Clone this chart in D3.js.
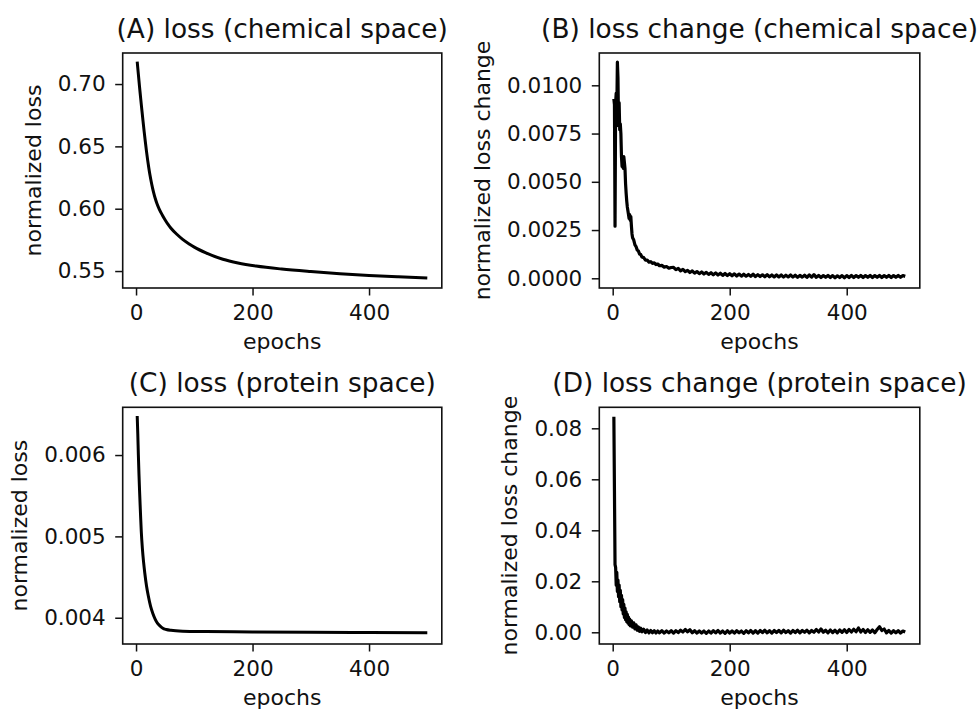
<!DOCTYPE html>
<html>
<head>
<meta charset="utf-8">
<script src="https://cdn.jsdelivr.net/npm/d3@7"></script>
<style>
  html, body { margin: 0; padding: 0; background: #fff; }
  svg { display: block; }
  text { font-family: "DejaVu Sans", sans-serif; fill: #111; }
</style>
</head>
<body>
<svg id="chart" width="978" height="710"></svg>
<script>
// ---------------- DATA ----------------
const xTicks = [0, 200, 400];

// (A) loss (chemical space)
const epochsA = [2,3,4,5,6,7,8,9,10,12,14,16,18,20,22,24,26,28,30,33,36,40,45,50,55,60,70,80,92,100,120,149,175,206,250,300,350,400,450,500];
const lossA   = [0.718,0.7128,0.7077,0.7027,0.6978,0.6930,0.6883,0.6837,0.6792,0.6703,0.6617,0.6535,0.6458,0.6388,0.6325,0.6268,0.6218,0.6173,0.6133,0.6082,0.6040,0.5995,0.5950,0.5910,0.5874,0.5843,0.5795,0.5754,0.5715,0.5692,0.5646,0.5595,0.5565,0.5540,0.5516,0.5496,0.5479,0.5465,0.5454,0.5445];
const ticksA  = [0.55, 0.60, 0.65, 0.70];

// (B) loss change (chemical space)
const epochsB = [2,3,4,5,6,7,8,9,10,11,12,13,14,15,16,17,18,19,20,21,22,23,24,25,26,27,28,29,30,31,32,33,34,36,38,40,42,44,46,48,50,53,56,59,62,65,68,71,74,77,80,84,88,92,96,100,
  104,108,112,116,120,124,128,132,136,140,144,148,152,156,160,164,168,172,176,180,184,188,192,196,200,
  204,208,212,216,220,224,228,232,236,240,244,248,252,256,260,264,268,272,276,280,284,288,292,296,300,
  304,308,312,316,320,324,328,332,336,340,344,348,352,356,360,364,368,372,376,380,384,388,392,396,400,
  404,408,412,416,420,424,428,432,436,440,444,448,452,456,460,464,468,472,476,480,484,488,492,496,500];
const changeB = [0.0093,0.0090,0.0027,0.0091,0.0096,0.0086,0.0112,0.0104,0.0079,0.0091,0.0077,0.0080,0.0075,0.0063,0.0058,0.0063,0.0057,0.0063,0.0060,0.0057,0.0049,0.0044,0.0040,0.0037,0.0035,0.0033,0.0031,0.0033,0.0030,0.0032,0.0027,0.0023,0.0021,0.00198,0.00173,0.00164,0.00146,0.00141,0.00125,0.00123,0.00110,0.00107,0.00094,0.00094,0.00084,0.00086,0.00077,0.00080,0.00071,0.00074,0.00065,0.00067,0.00058,0.00061,0.00052,0.00056,
  0.00057,0.00045,0.00051,0.00039,0.00046,0.00034,0.00041,0.00030,0.00038,0.00027,0.00035,0.00024,0.00033,0.00022,0.00031,0.00020,0.00029,0.00018,0.00028,0.00017,0.00026,0.00015,0.00025,0.00014,0.00024,
  0.00013,0.00023,0.00012,0.00022,0.00011,0.00021,0.00011,0.00020,0.00010,0.00021,0.00009,0.00019,0.00009,0.00018,0.00008,0.00019,0.00008,0.00017,0.00007,0.00018,0.00007,0.00017,0.00006,0.00016,0.00007,
  0.00017,0.00006,0.00016,0.00005,0.00015,0.00006,0.00016,0.00005,0.00017,0.00006,0.00019,0.00005,0.00015,0.00004,0.00014,0.00005,0.00015,0.00004,0.00014,0.00003,0.00013,0.00004,0.00014,0.00003,0.00014,
  0.00004,0.00015,0.00004,0.00014,0.00005,0.00015,0.00004,0.00014,0.00005,0.00015,0.00004,0.00014,0.00005,0.00015,0.00004,0.00014,0.00005,0.00015,0.00004,0.00014,0.00005,0.00015,0.00005,0.00014,0.00010];
const ticksB  = [0, 0.0025, 0.0050, 0.0075, 0.0100];

// (C) loss (protein space)
const epochsC = [2,3,4,5,6,7,8,9,11,13,15,18,21,25,29,33,37,41,46,52,60,80,120,200,300,400,500];
const lossC   = [0.00648,0.00626,0.00600,0.00577,0.00557,0.00539,0.00522,0.00506,0.00484,0.00468,0.00455,0.00439,0.00427,0.00414,0.00405,0.00398,0.00393,0.00390,0.00387,0.003855,0.003845,0.003835,0.00383,0.003825,0.00382,0.003818,0.003816];
const ticksC  = [0.004, 0.005, 0.006];

// (D) loss change (protein space)
const epochsD = [2,3,4,5,6,7,8,9,10,11,12,13,14,15,16,17,18,19,20,21,22,23,24,25,26,27,28,29,30,32,34,36,38,40,42,44,46,48,50,53,56,59,62,65,68,71,74,77,80,84,88,92,96,100,
  104,108,112,116,120,124,128,132,136,140,144,148,152,156,160,164,168,172,176,180,184,188,192,196,200,
  204,208,212,216,220,224,228,232,236,240,244,248,252,256,260,264,268,272,276,280,284,288,292,296,300,
  304,308,312,316,320,324,328,332,336,340,344,348,352,356,360,364,368,372,376,380,384,388,392,396,400,
  404,408,412,416,420,424,428,432,436,440,444,448,452,456,460,464,468,472,476,480,484,488,492,496,500];
const changeD = [0.0845,0.0555,0.0265,0.0255,0.0185,0.0235,0.0160,0.0205,0.0140,0.0185,0.0120,0.0165,0.0100,0.0145,0.0088,0.0128,0.0072,0.0110,0.0058,0.0095,0.0050,0.0080,0.0042,0.0070,0.0036,0.0060,0.0030,0.0052,0.0025,0.0045,0.0020,0.0037,0.0013,0.0029,0.0008,0.0021,0.0004,0.0016,0.0002,0.0012,-0.0001,0.0009,-0.0002,0.0007,-0.0002,0.0006,-0.0003,0.0005,-0.0002,0.0006,-0.0003,0.0005,-0.0002,0.0006,
  -0.0003,0.0006,-0.0001,0.0008,0.0001,0.0011,0.0002,0.0010,-0.0002,0.0006,-0.0003,0.0005,-0.0003,0.0005,-0.0004,0.0005,-0.0003,0.0006,-0.0002,0.0007,-0.0003,0.0005,-0.0004,0.0006,-0.0003,
  0.0005,-0.0003,0.0006,-0.0002,0.0005,-0.0004,0.0006,-0.0002,0.0007,-0.0003,0.0006,-0.0003,0.0007,-0.0001,0.0008,-0.0002,0.0006,-0.0003,0.0007,-0.0001,0.0007,-0.0002,0.0008,-0.0001,0.0006,
  -0.0003,0.0007,-0.0001,0.0008,-0.0002,0.0007,0.0000,0.0008,-0.0002,0.0007,0.0000,0.0011,0.0001,0.0013,0.0000,0.0008,-0.0002,0.0009,-0.0001,0.0008,-0.0002,0.0009,0.0000,0.0010,-0.0001,
  0.0011,0.0001,0.0012,0.0002,0.0017,0.0001,0.0011,-0.0001,0.0010,0.0000,0.0009,-0.0002,0.0011,0.0022,0.0007,0.0013,-0.0002,0.0007,-0.0003,0.0006,-0.0002,0.0006,-0.0003,0.0005,0.0001];
const ticksD  = [0, 0.02, 0.04, 0.06, 0.08];

const titles = ["(A) loss (chemical space)", "(B) loss change (chemical space)", "(C) loss (protein space)", "(D) loss change (protein space)"];
const yLabels = ["normalized loss", "normalized loss change", "normalized loss", "normalized loss change"];
const xLabel = "epochs";

// ---------------- LAYOUT ----------------
const panels = [
  { title: titles[0], ylab: yLabels[0], ex: epochsA, vals: lossA,   ticks: ticksA, fmt: d3.format(".2f"), yDom: [0.5364, 0.7249],    box: [122.7, 441.8, 53, 288],    smooth: true },
  { title: titles[1], ylab: yLabels[1], ex: epochsB, vals: changeB, ticks: ticksB, fmt: d3.format(".4f"), yDom: [-0.000503, 0.011674], box: [599.3, 919.8, 53, 288],  smooth: false },
  { title: titles[2], ylab: yLabels[2], ex: epochsC, vals: lossC,   ticks: ticksC, fmt: d3.format(".3f"), yDom: [0.003677, 0.006587], box: [122.7, 441.8, 407.3, 644], smooth: true },
  { title: titles[3], ylab: yLabels[3], ex: epochsD, vals: changeD, ticks: ticksD, fmt: d3.format(".2f"), yDom: [-0.00459, 0.08824],  box: [599.3, 919.8, 407.3, 644], smooth: false }
];
const xDom = [-22.9, 524.9];

const svg = d3.select("#chart");
const TICK_FS = 21.5, LABEL_FS = 22, TITLE_FS = 26.4;

panels.forEach(p => {
  const [x0, x1, y0, y1] = p.box;
  const x = d3.scaleLinear().domain(xDom).range([x0, x1]);
  const y = d3.scaleLinear().domain(p.yDom).range([y1, y0]);
  const g = svg.append("g");

  // line
  const line = d3.line()
    .x((d, i) => x(p.ex[i]))
    .y(d => y(d))
    .curve(p.smooth ? d3.curveMonotoneX : d3.curveLinear);
  g.append("path")
    .attr("d", line(p.vals))
    .attr("fill", "none")
    .attr("stroke", "#000")
    .attr("stroke-width", p.smooth ? 3 : 3.2)
    .attr("stroke-linejoin", "round");

  // x axis
  const xa = g.append("g").attr("transform", `translate(0,${y1})`)
    .call(d3.axisBottom(x).tickValues(xTicks).tickSize(7.5).tickPadding(9.5).tickSizeOuter(0));
  xa.select(".domain").remove();
  xa.selectAll("line").attr("stroke", "#111").attr("stroke-width", 1.5);
  xa.selectAll("text").style("font-family", "DejaVu Sans").style("font-size", TICK_FS + "px").attr("fill", "#111");

  // y axis
  const ya = g.append("g").attr("transform", `translate(${x0},0)`)
    .call(d3.axisLeft(y).tickValues(p.ticks).tickFormat(p.fmt).tickSize(7.5).tickPadding(9.5).tickSizeOuter(0));
  ya.select(".domain").remove();
  ya.selectAll("line").attr("stroke", "#111").attr("stroke-width", 1.5);
  ya.selectAll("text").style("font-family", "DejaVu Sans").style("font-size", TICK_FS + "px").attr("fill", "#111");

  // spines
  g.append("rect").attr("x", x0).attr("y", y0).attr("width", x1 - x0).attr("height", y1 - y0)
    .attr("fill", "none").attr("stroke", "#111").attr("stroke-width", 1.6);

  // y label
  const bb = ya.node().getBBox();
  const lx = x0 + bb.x - 17;
  const cy = (y0 + y1) / 2;
  g.append("text").attr("transform", `translate(${lx},${cy}) rotate(-90)`)
    .attr("text-anchor", "middle").style("font-size", LABEL_FS + "px").text(p.ylab);

  // x label
  g.append("text").attr("x", (x0 + x1) / 2).attr("y", y1 + 61)
    .attr("text-anchor", "middle").style("font-size", LABEL_FS + "px").text(xLabel);

  // title
  g.append("text").attr("x", (x0 + x1) / 2).attr("y", y0 - 15.5)
    .attr("text-anchor", "middle").style("font-size", TITLE_FS + "px").text(p.title);
});
</script>
</body>
</html>
